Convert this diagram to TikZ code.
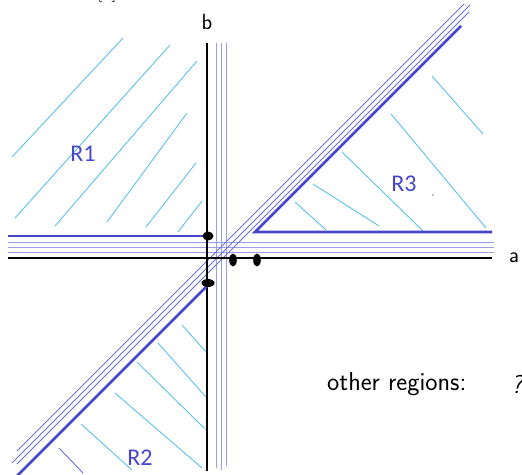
\documentclass[tikz,border=0pt]{standalone}
\usepackage{fontspec}
\newfontfamily\carl{Carlito}
\definecolor{thickblue}{HTML}{4646C8}
\definecolor{lav}{HTML}{9C9CE8}
\definecolor{lavdark}{HTML}{6C6CDA}
\definecolor{hatch}{HTML}{5CC0EC}
\tikzset{
  axis/.style={line width=2.8pt, black},
  bound/.style={line width=2.8pt, thickblue},
  thin/.style={line width=1pt, lav},
  thindiag/.style={line width=0.9pt, lavdark},
  hatchline/.style={line width=0.9pt, hatch},
  region/.style={font=\carl\fontsize{24}{27}\selectfont, text=thickblue, inner sep=0pt},
  axlabel/.style={font=\sffamily\fontsize{22}{26}\selectfont, inner sep=0pt},
  bigtext/.style={font=\sffamily\fontsize{26}{30}\selectfont, inner sep=0pt},
  blob/.style={fill=black, draw=none}
}
\begin{document}
\begin{tikzpicture}[x=1pt,y=-1pt]
\useasboundingbox (0,0) rectangle (522,474);
\clip (0,0) rectangle (522,474);

% partial top label
\node[font=\rmfamily\fontsize{20}{24}\selectfont, anchor=base, inner sep=0pt] (ref) at (107,-3) {[1]};

% R1 hatching
\draw[hatchline] (12,157) -- (123,38);
\draw[hatchline] (15,218) -- (170,45);
\draw[hatchline] (55,226) -- (197,61);
\draw[hatchline] (107,222) -- (187,113);
\draw[hatchline] (146,227) -- (196,163);
\draw[hatchline] (178,232) -- (202,201);

% R3 hatching
\draw[hatchline] (432,76) -- (483,134);
\draw[hatchline] (391,114) -- (486,228);
\draw[hatchline] (342,152) -- (423,231);
\draw[hatchline] (313,184) -- (379,226);
\draw[hatchline] (295,202) -- (326,230);

% R2 hatching
\draw[hatchline] (182,325) -- (207,353);
\draw[hatchline] (158,343) -- (206,397);
\draw[hatchline] (137,362) -- (205,429);
\draw[hatchline] (115,393) -- (202,468);
\draw[hatchline] (81,424) -- (132,470);
\draw[thindiag] (59,448) -- (83,473);

% thin parallel lines
\draw[thin] (216,43) -- (216,468);
\draw[thin] (221,43) -- (221,470);
\draw[thin] (226,43) -- (226,466);
\draw[thin] (8,242) -- (494,242);
\draw[thin] (8,247) -- (494,247);
\draw[thin] (8,252) -- (494,252);
\draw[thindiag] (17,451) -- (464,4);
\draw[thindiag] (12,463) -- (470,5);
\draw[thindiag] (17,464) -- (469,12);

% axes
\draw[axis] (207,43) -- (207,471);
\draw[axis] (8,258) -- (492,258);

% region boundaries
\draw[bound] (8,236) -- (207,236);
\draw[bound] (492,232) -- (255,232) -- (461,26);
\draw[bound] (207,286) -- (17,476);

% blobs
\fill[blob] (208,236) ellipse [x radius=5.5, y radius=4.5];
\fill[blob] (233,260) ellipse [x radius=3.8, y radius=6.5];
\fill[blob] (257,260) ellipse [x radius=3.8, y radius=6.5];
\fill[blob] (208,283) ellipse [x radius=6.5, y radius=4];
\fill[gray] (433,195) circle [radius=0.9];

% labels
\node[axlabel] (lb) at (207,22) {b};
\node[axlabel] (la) at (514,258) {a};
\node[region] (r1) at (83,154) {R1};
\node[region] (r2) at (140,458) {R2};
\node[region] (r3) at (404,184) {R3};
\node[bigtext, anchor=west] (other) at (327,384) {other regions:};
\node[bigtext, anchor=west] (q) at (511,384) {\itshape ?};
\end{tikzpicture}
\end{document}
